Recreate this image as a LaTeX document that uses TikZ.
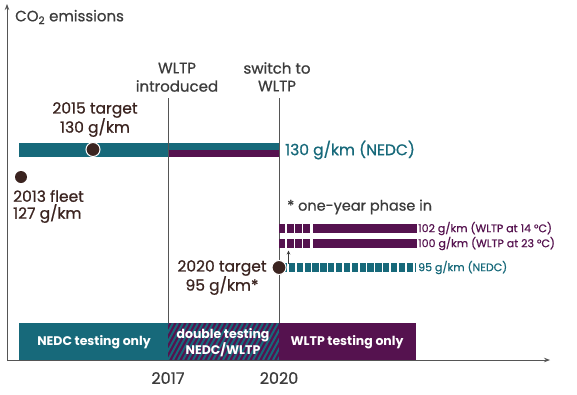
\documentclass[tikz,border=0pt]{standalone}
\usepackage{fontspec}
\setmainfont{Poppins}[FakeBold=0.7]
\newfontfamily\boxfont{Poppins}
\usetikzlibrary{arrows.meta}
\definecolor{tealc}{HTML}{17697A}
\definecolor{purp}{HTML}{55124F}
\definecolor{dotc}{HTML}{3B2420}
\definecolor{txt}{HTML}{3C3C3C}
\definecolor{axisc}{HTML}{555555}
\tikzset{
  axisline/.style={draw=axisc, line width=0.8pt, -{Stealth[length=6pt,width=4.5pt]}},
  yearline/.style={draw=axisc, line width=0.6pt},
  lbl/.style={text=txt, inner sep=0pt, font=\fontsize{15}{17}\selectfont},
  tlbl/.style={text=dotc, inner sep=0pt, font=\fontsize{15.5}{17}\selectfont},
  small/.style={inner sep=0pt, anchor=west, font=\fontsize{11}{12}\selectfont},
  boxtxt/.style={text=white, inner sep=0pt, font=\boxfont\bfseries\fontsize{12.5}{15}\selectfont},
  dot/.style={circle, fill=dotc, draw=white, line width=1pt, inner sep=0pt, minimum size=14pt},
}
\begin{document}
\begin{tikzpicture}[x=1pt,y=-1pt]
\useasboundingbox[fill=white] (0,0) rectangle (577,394);

% bottom boxes
\fill[tealc] (19,323) rectangle (168,360);
\fill[purp] (168,323) rectangle (279,360);
\begin{scope}
  \clip (168,323) rectangle (279,360);
  \foreach \i in {-30,-25,...,120} {
    \draw[tealc, line width=2pt] (168+\i,360) -- (168+\i+20,323);
  }
\end{scope}
\fill[purp] (279,323) rectangle (416,360);
\node[boxtxt] (nedcbox) at (94,342) {NEDC testing only};
\node[boxtxt] (dbl1) at (223,335) {double testing};
\node[boxtxt] (dbl2) at (223,350) {NEDC/WLTP};
\node[boxtxt] (wltpbox) at (347,342) {WLTP testing only};

% top bar
\fill[tealc] (19,143) rectangle (168,157);
\fill[tealc] (168,143) rectangle (279,150);
\fill[purp] (168,150) rectangle (279,157);

% year lines
\coordinate (l17t) at (168,98);
\coordinate (l17b) at (168,323);
\coordinate (l20t) at (279,98);
\coordinate (l20b) at (279,323);
\draw[yearline] (l17t) -- (l17b);
\draw[yearline] (l20t) -- (l20b);

% axes
\coordinate (yb) at (7,361);
\coordinate (yt) at (7,4);
\coordinate (xl) at (7,360);
\coordinate (xr) at (550,360);
\draw[axisline] (yb) -- (yt);
\draw[axisline] (xl) -- (xr);

% purple dashed rows
\foreach \y in {224,239} {
  \foreach \k in {0,1,2,3} {
    \fill[purp] (278.5+\k*8.3,\y) rectangle (285.3+\k*8.3,\y+8.7);
  }
  \fill[purp] (312.5,\y) rectangle (416.5,\y+8.7);
}
% teal dashed row
\foreach \k in {0,...,16} {
  \fill[tealc] (281+\k*7.85,263.3) rectangle (287.3+\k*7.85,271.8);
}
\fill[tealc] (414.5,263.3) rectangle (416.2,271.8);

% small arrow
\coordinate (arb) at (288.5,264);
\coordinate (art) at (288.5,250.5);
\draw[draw=txt, line width=0.7pt, -{Stealth[length=4pt,width=3.5pt]}] (arb) -- (art);

% dots
\node[dot] (d15) at (93,149.5) {};
\node[dot, minimum size=12pt, draw=none] (d13) at (21,177) {};
\node[dot] (d20) at (279,267.5) {};

% labels
\node[lbl, anchor=west] (co2) at (15,17) {CO\textsubscript{2} emissions};
\node[lbl] (wi1) at (177,68) {WLTP};
\node[lbl] (wi2) at (177,86) {introduced};
\node[lbl] (sw1) at (277,68) {switch to};
\node[lbl] (sw2) at (277,86) {WLTP};
\node[tlbl] (t15a) at (95,110) {2015 target};
\node[tlbl] (t15b) at (95,127.5) {130 g/km};
\node[tlbl, anchor=west] (t13a) at (13,196) {2013 fleet};
\node[tlbl, anchor=west] (t13b) at (13,213.5) {127 g/km};
\node[lbl, text=tealc, anchor=west, font=\fontsize{15.5}{17}\selectfont] (nedc130) at (285,150) {130 g/km (NEDC)};
\node[lbl, anchor=west, font=\fontsize{14.5}{17}\selectfont] (phase) at (287,207) {* one-year phase in};
\node[small, text=purp] (w102) at (418,228.5) {102 g/km (WLTP at 14 °C)};
\node[small, text=purp] (w100) at (418,243.5) {100 g/km (WLTP at 23 °C)};
\node[small, text=tealc] (n95) at (418,267.5) {95 g/km (NEDC)};
\node[tlbl] (t20a) at (222,268) {2020 target};
\node[tlbl] (t20b) at (222,285.5) {95 g/km*};
\node[lbl, font=\fontsize{16}{17}\selectfont] (y17) at (168,378) {2017};
\node[lbl, font=\fontsize{16}{17}\selectfont] (y20) at (279,378) {2020};
\end{tikzpicture}
\end{document}
